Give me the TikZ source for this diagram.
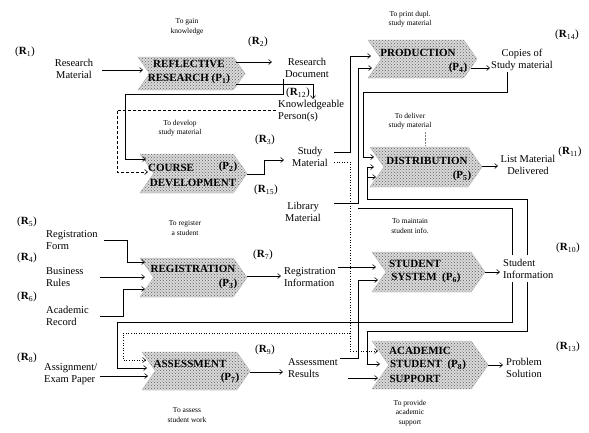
\documentclass[tikz,border=0pt]{standalone}
\usepackage{fontspec}
\setmainfont{Liberation Serif}
\usetikzlibrary{shapes.symbols,patterns,arrows.meta}
\newcommand\rlab[1]{(\textbf{R}\textsubscript{#1})}
\newcommand\plab[1]{(P\textsubscript{#1})}
\begin{document}
\begin{tikzpicture}[x=1pt,y=-1pt,
  proc/.style={signal, signal to=east, signal from=west, signal pointer angle=110,
    draw=gray!60, preaction={fill=gray!30}, pattern=crosshatch dots, pattern color=gray!75!black,
    inner sep=0pt},
  conn/.style={draw, line width=0.6pt},
  arr/.style={conn, -{Straight Barb[length=3pt,width=5pt]}},
  lbl/.style={font=\fontsize{10.5}{12.5}\selectfont, align=center, inner sep=0pt},
  lbll/.style={lbl, align=left, anchor=west},
  ann/.style={font=\fontsize{7.5}{9.5}\selectfont, align=center, inner sep=0pt},
  ptxt/.style={font=\bfseries\fontsize{11}{14}\selectfont, align=center, inner sep=0pt},
  rl/.style={font=\fontsize{11}{12}\selectfont, inner sep=0pt}]
\useasboundingbox (0,0) rectangle (589,432);
% process boxes
\node[proc, minimum width=107pt, minimum height=33pt] (p1) at (191.5,73.5) {};
\node[proc, minimum width=107pt, minimum height=39pt] (p2) at (193.5,173.5) {};
\node[proc, minimum width=107pt, minimum height=39pt] (p3) at (193.5,277.5) {};
\node[proc, minimum width=108pt, minimum height=38pt] (p7) at (196,371) {};
\node[proc, minimum width=109pt, minimum height=38pt] (p4) at (422.5,59) {};
\node[proc, minimum width=112pt, minimum height=40pt] (p5) at (426,167) {};
\node[proc, minimum width=113pt, minimum height=40pt] (p6) at (428.5,272) {};
\node[proc, minimum width=116pt, minimum height=48pt] (p8) at (430,365) {};
% process texts
\node[ptxt] (t1) at (189,72) {REFLECTIVE\\RESEARCH \plab{1}};
\node[ptxt, anchor=west] (t2a) at (148,168) {COURSE};
\node[ptxt] (t2b) at (228,167) {\plab{2}};
\node[ptxt] (t2c) at (193,183) {DEVELOPMENT};
\node[ptxt] (t3a) at (193,269) {REGISTRATION};
\node[ptxt] (t3b) at (228,284) {\plab{3}};
\node[ptxt] (t7a) at (190,364) {ASSESSMENT};
\node[ptxt] (t7b) at (230,378) {\plab{7}};
\node[ptxt] (t4a) at (418,53) {PRODUCTION};
\node[ptxt] (t4b) at (458,68) {\plab{4}};
\node[ptxt] (t5a) at (427,161) {DISTRIBUTION};
\node[ptxt] (t5b) at (462,176) {\plab{5}};
\node[ptxt] (t6a) at (415,264) {STUDENT};
\node[ptxt] (t6b) at (426,278) {SYSTEM\ \ \plab{6}};
\node[ptxt] (t8a) at (420,351) {ACADEMIC};
\node[ptxt] (t8b) at (428,365) {STUDENT\ \ \plab{8}};
\node[ptxt] (t8c) at (415,379) {SUPPORT};
% labels
\node[rl] (r1) at (25,52) {\rlab{1}};
\node[lbl] (resmat) at (74,69) {Research\\Material};
\node[ann] (a1) at (187,27) {To gain\\knowledge};
\node[rl] (r2) at (258,42) {\rlab{2}};
\node[lbl] (resdoc) at (307,68) {Research\\Document};
\node[rl] (r12) at (298,93) {\rlab{12}};
\node[lbll] (know) at (278,111) {Knowledgeable\\Person(s)};
\node[ann] (a2) at (180,128) {To develop\\study material};
\node[rl] (r3) at (265,140) {\rlab{3}};
\node[lbl] (study) at (310,157) {Study\\Material};
\node[rl] (r15) at (266,190) {\rlab{15}};
\node[lbl] (lib) at (303,212) {Library\\Material};
\node[ann] (a3) at (185,228) {To register\\a student};
\node[rl] (r5) at (27,222) {\rlab{5}};
\node[lbll] (regform) at (46,240) {Registration\\Form};
\node[rl] (r4) at (27,258) {\rlab{4}};
\node[lbll] (bus) at (46,277) {Business\\Rules};
\node[rl] (r6) at (27,297) {\rlab{6}};
\node[lbll] (acad) at (46,316) {Academic\\Record};
\node[rl] (r7) at (263,255) {\rlab{7}};
\node[lbll] (reginfo) at (284,277) {Registration\\Information};
\node[rl] (r8) at (27,358) {\rlab{8}};
\node[lbll] (assign) at (44,374) {Assignment/\\Exam Paper};
\node[rl] (r9) at (265,350) {\rlab{9}};
\node[lbll] (assres) at (288,368) {Assessment\\Results};
\node[ann] (a4) at (187,415) {To assess\\student work};
\node[ann] (a5) at (410,19) {To print dupl.\\study material};
\node[rl] (r14) at (567,35) {\rlab{14}};
\node[lbl] (copies) at (522,60) {Copies of\\Study material};
\node[ann] (a6) at (410,121) {To deliver\\study material};
\node[rl] (r11) at (570,152) {\rlab{11}};
\node[lbl] (list) at (528,165) {List Material\\Delivered};
\node[ann] (a7) at (410,226) {To maintain\\student info.};
\node[rl] (r10) at (568,248) {\rlab{10}};
\node[lbll] (sinfo) at (503,269) {Student\\Information};
\node[rl] (r13) at (568,347) {\rlab{13}};
\node[lbll] (prob) at (506,368) {Problem\\Solution};
\node[ann] (a8) at (410,413) {To provide\\academic\\support};
% connectors
\draw[arr] (102,70) -- (143,70);
\draw[arr] (236,62) -- (272,62);
\draw[arr] (236,84) -- (313,84) -- (313,99);
\draw[arr] (283,79) -- (283,94) -- (125,94) -- (125,159) -- (146,159);
\draw[arr, densely dashed] (276,110) -- (117,110) -- (117,172) -- (148,172);
\draw[arr] (247,174) -- (264,174) -- (264,160) -- (284,160);
\draw[arr] (334,152) -- (350,152) -- (350,56) -- (371,56);
\draw[arr,dotted] (334,162) -- (350,162) -- (350,351) -- (378,351);
\draw[arr,dotted] (350,333) -- (123,333) -- (123,360) -- (146,360);
\draw[arr] (334,203) -- (358,203) -- (358,68) -- (372,68);
\draw[conn] (512,255) -- (512,208) -- (358,208);
\draw[arr] (507,72) -- (507,92) -- (363,92) -- (363,157) -- (374,157);
\draw[arr] (527,255) -- (527,199) -- (367,199) -- (367,177) -- (376,177);
\draw[arr] (367,177) -- (367,167) -- (374,167);
\draw[arr] (338,267) -- (376,267);
\draw[arr] (340,358) -- (358,358) -- (358,280) -- (378,280);
\draw[arr] (512,282) -- (512,322) -- (117,322) -- (117,368) -- (147,368);
\draw[arr] (527,282) -- (527,331) -- (367,331) -- (367,364) -- (380,364);
\draw[arr] (348,378) -- (378,378);
\draw[arr] (104,240) -- (127,240) -- (127,262) -- (145,262);
\draw[arr] (100,277) -- (145,277);
\draw[arr] (100,316) -- (123,316) -- (123,289) -- (145,289);
\draw[arr] (247,276) -- (281,276);
\draw[arr] (100,376) -- (148,376);
\draw[arr] (250,372) -- (283,372);
\draw[arr] (471,68) -- (490,68);
\draw[arr] (482,166) -- (498,166);
\draw[arr] (485,272) -- (500,272);
\draw[arr] (488,365) -- (503,365);
\draw[densely dotted, gray] (425,132) -- (425,146);
\end{tikzpicture}
\end{document}
